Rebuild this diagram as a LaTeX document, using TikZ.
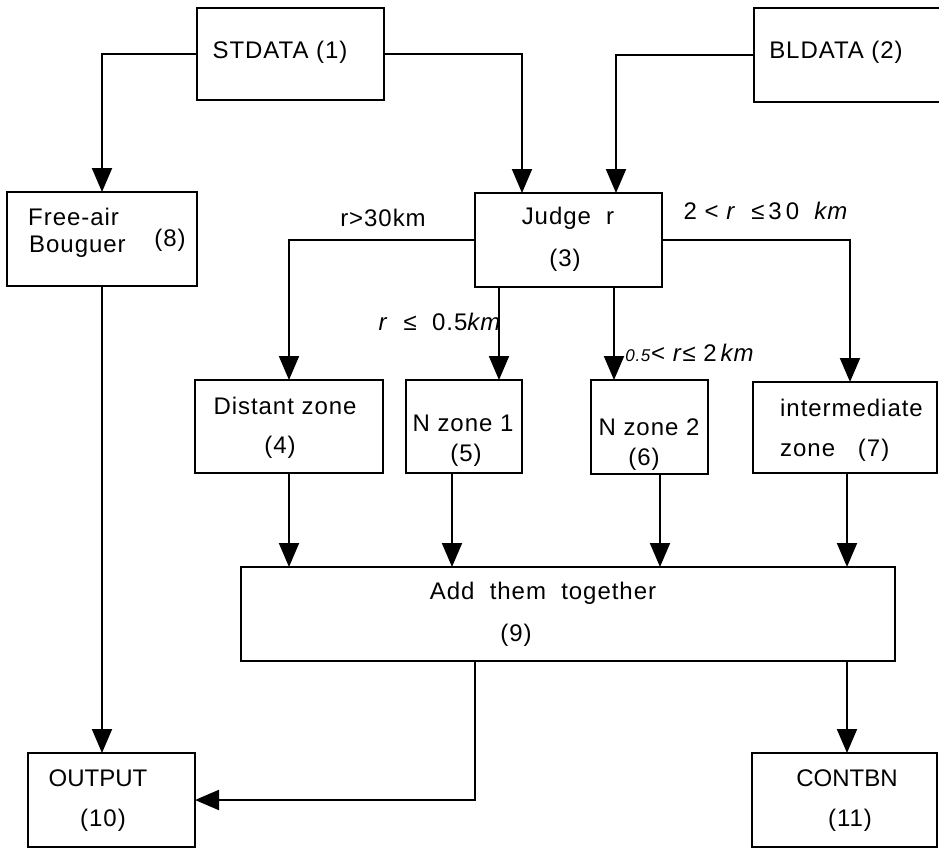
\documentclass[tikz,border=0pt]{standalone}
\usepackage{fontspec}
\setmainfont{Liberation Sans}[LetterSpace=4]
\newfontfamily\tightfont{Liberation Sans}
\usetikzlibrary{arrows.meta,calc}
\begin{document}
\begin{tikzpicture}[x=1pt,y=-1pt,
  box/.style={draw,line width=2pt,inner sep=0pt,outer sep=0pt,anchor=north west},
  txt/.style={inner sep=0pt,anchor=center,font=\fontsize{24}{28}\selectfont},
  lab/.style={inner sep=0pt,anchor=center,font=\fontsize{24}{28}\selectfont},
  arr/.style={line width=2pt,-{Triangle[length=24pt,width=20pt]}}]
\useasboundingbox (0,0) rectangle (939,848);

% boxes
\node[box,minimum width=187pt,minimum height=92pt] (st) at (197,8) {};
\node[box,minimum width=200pt,minimum height=94pt] (bl) at (754,8) {};
\node[box,minimum width=190pt,minimum height=94pt] (fa) at (7,192) {};
\node[box,minimum width=187pt,minimum height=94pt] (judge) at (475,193) {};
\node[box,minimum width=188pt,minimum height=93pt] (dist) at (195,380) {};
\node[box,minimum width=116pt,minimum height=93pt] (n1) at (406,380) {};
\node[box,minimum width=117pt,minimum height=94pt] (n2) at (591,380) {};
\node[box,minimum width=184pt,minimum height=91pt] (inter) at (753,382) {};
\node[box,minimum width=654pt,minimum height=94pt] (add) at (241,567) {};
\node[box,minimum width=167pt,minimum height=94pt] (out) at (28,753) {};
\node[box,minimum width=185pt,minimum height=94pt] (cont) at (752,753) {};

% box texts
\node[txt] (tst) at (280,52) {STDATA (1)};
\node[txt] (tbl) at (836,52) {BLDATA (2)};
\node[txt,anchor=west] (tfa1) at (28,217) {Free-air};
\node[txt,anchor=west] (tfa2) at (29,247) {Bouguer};
\node[txt] (tfa3) at (170,240) {(8)};
\node[txt] (tj1) at (568,218) {Judge\ \ r};
\node[txt] (tj2) at (565,260) {(3)};
\node[txt] (td1) at (285,406) {Distant zone};
\node[txt] (td2) at (280,447) {(4)};
\node[txt] (tn11) at (463,423) {N zone 1};
\node[txt] (tn12) at (466,455) {(5)};
\node[txt] (tn21) at (649,427) {N zone 2};
\node[txt] (tn22) at (644,459) {(6)};
\node[txt,anchor=west] (ti1) at (780,408) {intermediate};
\node[txt,anchor=west] (ti2) at (780,450) {zone\ \ \ (7)};
\node[txt] (ta1) at (543,593) {Add\ \ them\ \ together};
\node[txt] (ta2) at (516,635) {(9)};
\node[txt] (to1) at (98,778) {\tightfont OUTPUT};
\node[txt] (to2) at (103,820) {(10)};
\node[txt] (tc1) at (847,778) {\tightfont CONTBN};
\node[txt] (tc2) at (850,820) {(11)};

% branch conditions
\node[lab] (c1) at (383,218) {r>30km};
\node[lab] (c2) at (766,211) {2\ <\ \textit{r}\ \ ≤\,3\,0\ \ \textit{km}};
\node[lab] (c3) at (440,322) {\textit{r}\ \ ≤\ \ 0.5\textit{km}};
\node[lab] (c4) at (690,353) {{\fontsize{17}{17}\selectfont\textit{0.5}}<\ \textit{r}≤\ 2\,\textit{km}};

% connectors
\draw[arr] (st.west) -| (fa.north);
\draw[arr] (st.east) -| ([xshift=47pt]judge.north west);
\draw[arr] (bl.west) -| ([xshift=141pt]judge.north west);
\draw[arr] (judge.west) -| (dist.north);
\draw[arr] ([xshift=24pt]judge.south west) -- ([xshift=24pt]judge.south west |- n1.north);
\draw[arr] ([xshift=139pt]judge.south west) -- ([xshift=139pt]judge.south west |- n2.north);
\draw[arr] (judge.east) -| ([xshift=97pt]inter.north west);
\draw[arr] (dist.south) -- (dist.south |- add.north);
\draw[arr] ([xshift=46pt]n1.south west) -- ([xshift=46pt]n1.south west |- add.north);
\draw[arr] ([xshift=69pt]n2.south west) -- ([xshift=69pt]n2.south west |- add.north);
\draw[arr] ([xshift=94pt]inter.south west) -- ([xshift=94pt]inter.south west |- add.north);
\draw[arr] (fa.south) -- (fa.south |- out.north);
\draw[arr] ([xshift=234pt]add.south west) |- (out.east);
\draw[arr] ([xshift=606pt]add.south west) -- ([xshift=606pt]add.south west |- cont.north);
\end{tikzpicture}
\end{document}
